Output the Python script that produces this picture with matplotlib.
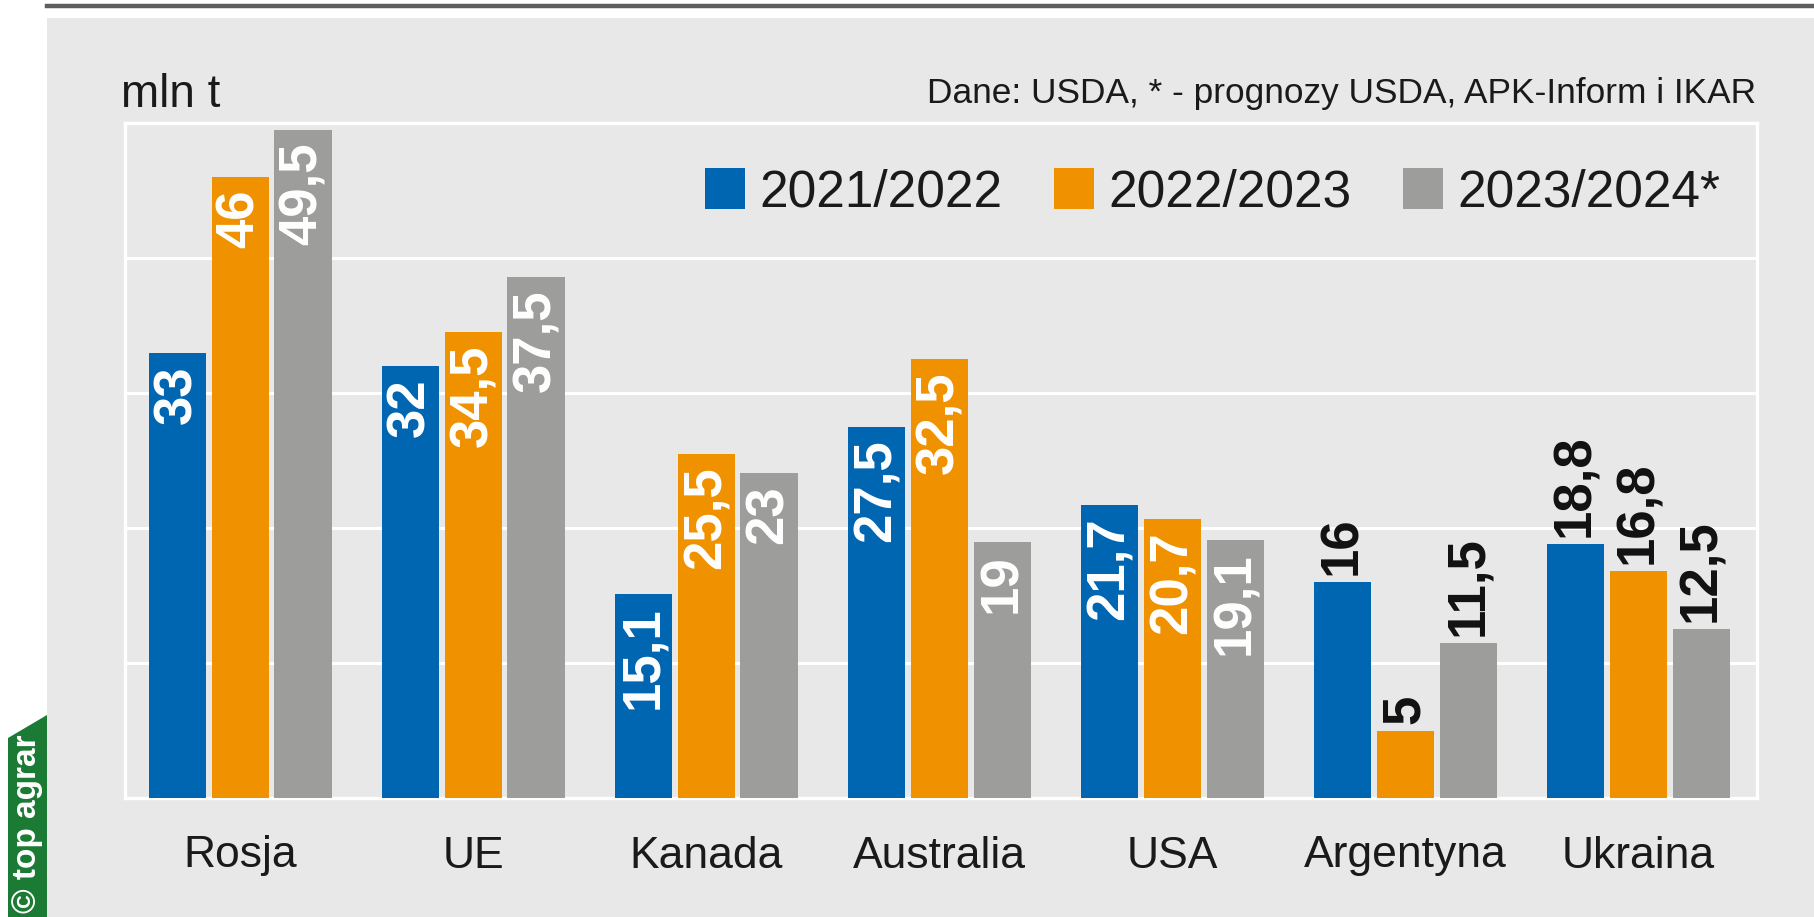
import matplotlib
matplotlib.use("Agg")
import matplotlib.pyplot as plt
import numpy as np
from matplotlib import font_manager
from matplotlib.patches import Rectangle, Polygon
from matplotlib.lines import Line2D

# ---------------- data ----------------
countries = ["Rosja", "UE", "Kanada", "Australia", "USA", "Argentyna", "Ukraina"]
series_names = ["2021/2022", "2022/2023", "2023/2024*"]
# bar heights as drawn in the picture
v_2021_2022 = [33, 32, 15.1, 27.5, 21.7, 16, 18.8]
v_2022_2023 = [46, 34.5, 25.5, 32.5, 20.7, 5, 16.8]
v_2023_2024 = [49.5, 38.6, 24.1, 19, 19.1, 11.5, 12.5]
# value labels as printed on the bars
lbl_2021_2022 = ["33", "32", "15,1", "27,5", "21,7", "16", "18,8"]
lbl_2022_2023 = ["46", "34,5", "25,5", "32,5", "20,7", "5", "16,8"]
lbl_2023_2024 = ["49,5", "37,5", "23", "19", "19,1", "11,5", "12,5"]
labels_outside = ["Argentyna", "Ukraina"]   # countries whose value labels sit above the bars
unit_label = "mln t"
source_note = "Dane: USDA, * - prognozy USDA, APK-Inform i IKAR"
logo_text = "© top agrar"

colors = ["#0066B1", "#F09100", "#9D9D9C"]
panel_bg = "#E8E8E8"

# ---------------- fonts ----------------
def has_font(name):
    try:
        font_manager.findfont(font_manager.FontProperties(family=name), fallback_to_default=False)
        return True
    except Exception:
        return False

main_font = "Liberation Sans" if has_font("Liberation Sans") else "DejaVu Sans"
narrow_ok = has_font("Liberation Sans Narrow")
plt.rcParams["font.family"] = [main_font, "DejaVu Sans"]

W, H = 1815, 917
fig = plt.figure(figsize=(W / 100, H / 100), dpi=100)
fig.patch.set_facecolor("white")

def fx(px):
    return px / W

def fy(py):
    return 1 - py / H

# background panel
fig.add_artist(Rectangle((fx(47), 0), 1 - fx(47), fy(18), transform=fig.transFigure,
                         facecolor=panel_bg, edgecolor="none", zorder=0))
# top rule
fig.add_artist(Line2D([fx(47), 1], [fy(6), fy(6)], transform=fig.transFigure,
                      color="#5E5E5E", linewidth=3.2, zorder=1))
# logo tag
fig.add_artist(Polygon([(fx(8), 0), (fx(8), fy(738)), (fx(47), fy(715)), (fx(47), 0)],
                       closed=True, transform=fig.transFigure, facecolor="#1B7A34",
                       edgecolor="none", zorder=1))
fig.text(fx(28), fy(913), logo_text, rotation=90, ha="center", va="bottom",
         color="white", fontsize=24, fontweight="bold", zorder=2)

# ---------------- axes ----------------
ax = fig.add_axes([fx(125), fy(798), fx(1757) - fx(125), fy(123) - fy(798)])
ax.set_facecolor(panel_bg)
ax.set_ylim(0, 50)
ax.set_xlim(-0.494, 6.51)
ax.set_yticks([10, 20, 30, 40])
ax.yaxis.grid(True, color="white", linewidth=2.2)
ax.set_axisbelow(True)
ax.tick_params(axis="y", left=False, labelleft=False)
for s in ax.spines.values():
    s.set_color("white")
    s.set_linewidth(2.4)

x = np.arange(len(countries))
step = 0.27
width = 0.245
all_series = [v_2021_2022, v_2022_2023, v_2023_2024]
all_labels = [lbl_2021_2022, lbl_2022_2023, lbl_2023_2024]
for i, (vals, lbls, name, col) in enumerate(zip(all_series, all_labels, series_names, colors)):
    xs = x + (i - 1) * step
    ax.bar(xs, vals, width=width, color=col, label=name, zorder=3)
    for xi, v, txt, c in zip(xs, vals, lbls, countries):
        if c in labels_outside:
            ax.annotate(txt, (xi, v), xytext=(0, 5), textcoords="offset points",
                        rotation=90, ha="center", va="bottom", fontsize=38,
                        fontweight="bold", color="#111111", zorder=4)
        else:
            ax.annotate(txt, (xi, v), xytext=(0, -9), textcoords="offset points",
                        rotation=90, ha="center", va="top", fontsize=38,
                        fontweight="bold", color="white", zorder=4)

ax.set_xticks(x)
ax.set_xticklabels(countries, fontsize=32, color="#1a1a1a")
ax.tick_params(axis="x", length=0, pad=27)

# legend
leg = ax.legend(loc="center left", bbox_to_anchor=(fx(705), fy(193)),
                bbox_transform=fig.transFigure, ncol=3, frameon=False,
                fontsize=37, handlelength=0.78, handleheight=0.85,
                handletextpad=0.28, columnspacing=1.0, borderpad=0, borderaxespad=0)
for t in leg.get_texts():
    t.set_color("#1a1a1a")

# texts above plot
fig.text(fx(121), fy(107), unit_label, ha="left", va="baseline", fontsize=33, color="#1a1a1a")
if narrow_ok:
    fig.text(fx(1756), fy(103), source_note, ha="right", va="baseline", fontsize=30,
             family=["Liberation Sans Narrow", "DejaVu Sans"], color="#1a1a1a")
else:
    fig.text(fx(1756), fy(103), source_note, ha="right", va="baseline", fontsize=25.4,
             color="#1a1a1a")

fig.savefig("out.png", dpi=100, facecolor=fig.get_facecolor())
